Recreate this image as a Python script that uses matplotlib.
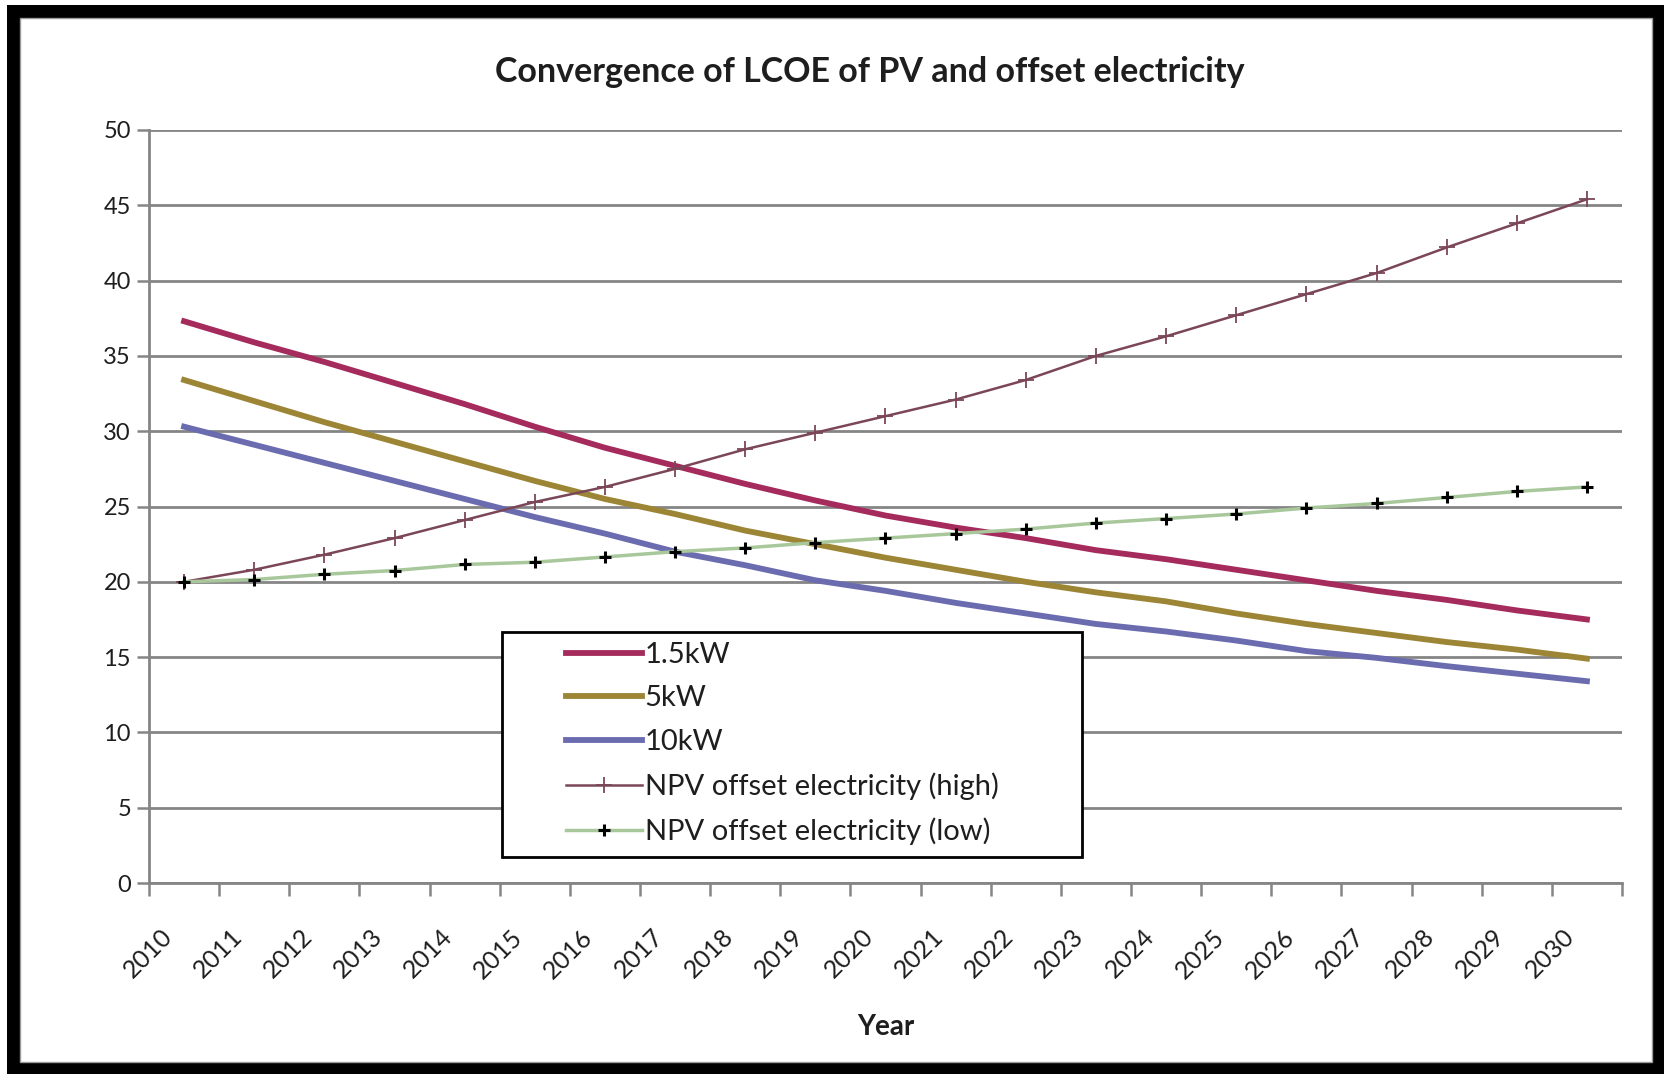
import matplotlib
matplotlib.use("Agg")
import matplotlib.pyplot as plt
from matplotlib.patches import Rectangle
from matplotlib.transforms import ScaledTranslation
import numpy as np

plt.rcParams['font.family'] = ['Lato', 'DejaVu Sans']

years = [str(y) for y in range(2010, 2031)]
pv_1_5kw = [37.3, 35.9, 34.6, 33.2, 31.8, 30.3, 28.9, 27.7, 26.5, 25.4, 24.4,
            23.6, 22.9, 22.1, 21.5, 20.8, 20.1, 19.4, 18.8, 18.1, 17.5]
pv_5kw = [33.4, 32.0, 30.6, 29.3, 28.0, 26.7, 25.5, 24.5, 23.4, 22.5, 21.6,
          20.8, 20.0, 19.3, 18.7, 17.9, 17.2, 16.6, 16.0, 15.5, 14.9]
pv_10kw = [30.3, 29.1, 27.9, 26.7, 25.5, 24.3, 23.2, 22.0, 21.1, 20.1, 19.4,
           18.6, 17.9, 17.2, 16.7, 16.1, 15.4, 14.95, 14.4, 13.9, 13.4]
npv_high = [20.0, 20.8, 21.8, 22.9, 24.1, 25.3, 26.3, 27.5, 28.8, 29.9, 31.0,
            32.1, 33.4, 35.0, 36.3, 37.7, 39.1, 40.5, 42.2, 43.8, 45.4]
npv_low = [20.0, 20.15, 20.5, 20.75, 21.15, 21.3, 21.65, 22.0, 22.25, 22.6, 22.9,
           23.2, 23.5, 23.9, 24.2, 24.5, 24.9, 25.2, 25.6, 26.0, 26.3]
y_ticks = [0, 5, 10, 15, 20, 25, 30, 35, 40, 45, 50]

W, H = 1664, 1074
fig = plt.figure(figsize=(W / 100, H / 100), dpi=100)
fig.patch.set_facecolor('white')
# outer black frame
fig.patches.append(Rectangle((7 / W, 0), 1 - 7 / W, 1 - 5 / H, transform=fig.transFigure,
                             facecolor='black', edgecolor='none', zorder=-10))
fig.patches.append(Rectangle((20 / W, 1 - 1062 / H), (1652 - 20) / W, (1062 - 18) / H,
                             transform=fig.transFigure, facecolor='white',
                             edgecolor='#9a9a9a', linewidth=1, zorder=-9))

ax = fig.add_axes([149 / W, 1 - 883 / H, (1622 - 149) / W, (883 - 130) / H])
ax.set_facecolor('none')
x = np.arange(len(years))

grid_c = '#858585'
ax.set_xlim(-0.5, len(years) - 0.5)
ax.set_ylim(0, 50)
ax.set_yticks(y_ticks)
ax.set_yticklabels([str(v) for v in y_ticks], fontsize=17, color='#1e1e1e')
ax.yaxis.grid(True, color=grid_c, linewidth=2)
ax.set_axisbelow(True)
ax.set_xticks(np.arange(-0.5, len(years), 1.0))
ax.set_xticklabels([])
ax.tick_params(axis='both', direction='out', color=grid_c, width=1.8, length=9)
ax.tick_params(axis='y', pad=4)
for s in ['top', 'right']:
    ax.spines[s].set_visible(False)
for s in ['left', 'bottom']:
    ax.spines[s].set_color(grid_c)
    ax.spines[s].set_linewidth(2)

off = ScaledTranslation(-0.24, -0.42, fig.dpi_scale_trans)
for i, lab in enumerate(years):
    ax.text(i, 0, lab, transform=ax.get_xaxis_transform() + off, rotation=45,
            rotation_mode='anchor', ha='right', va='top', fontsize=18, color='#1e1e1e')

l1, = ax.plot(x, pv_1_5kw, color='#A52B5C', linewidth=4.2, label='1.5kW', zorder=3)
l2, = ax.plot(x, pv_5kw, color='#9C8535', linewidth=4.2, label='5kW', zorder=3)
l3, = ax.plot(x, pv_10kw, color='#6B6BAF', linewidth=4.2, label='10kW', zorder=3)
l4, = ax.plot(x, npv_high, color='#7A4658', linewidth=1.8, marker='+', markersize=12,
              markeredgewidth=1.3, label='NPV offset electricity (high)', zorder=3)
l5, = ax.plot(x, npv_low, color='#A8C89C', linewidth=2.5, marker='+', markersize=9,
              markeredgewidth=2.2, markeredgecolor='black', markerfacecolor='black',
              label='NPV offset electricity (low)', zorder=3)

# legend box
ax.add_patch(Rectangle((502 / W, 1 - 857 / H), (1082 - 502) / W, (857 - 632) / H,
                       transform=fig.transFigure, facecolor='white', edgecolor='black',
                       linewidth=2, zorder=4, clip_on=False))
leg = ax.legend(handles=[l1, l2, l3, l4, l5], loc='upper left',
                bbox_to_anchor=(560 / W, 1 - 636 / H), bbox_transform=fig.transFigure,
                frameon=False, fontsize=21, handlelength=2.6, handletextpad=0.1,
                labelspacing=0.6, borderpad=0.2, borderaxespad=0)
leg.set_zorder(5)
for t in leg.get_texts():
    t.set_color('#1e1e1e')

fig.text(870 / W, 1 - 72 / H, 'Convergence of LCOE of PV and offset electricity',
         ha='center', va='center', fontsize=24.5, fontweight='bold', color='#1e1e1e')
fig.text(886 / W, 1 - 1027 / H, 'Year', ha='center', va='center', fontsize=20,
         fontweight='bold', color='#1e1e1e')

fig.savefig('out.png', dpi=100, facecolor=fig.get_facecolor())
